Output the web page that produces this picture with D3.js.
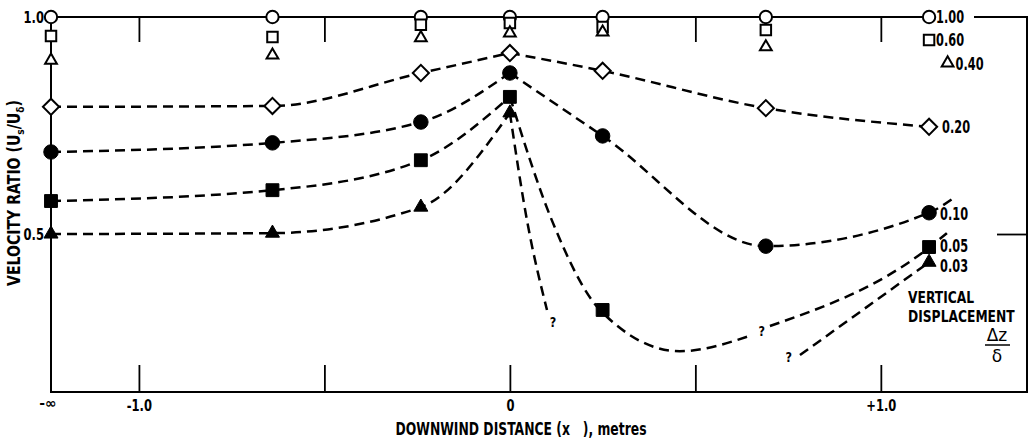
<!DOCTYPE html>
<html>
<head>
<meta charset="utf-8">
<script src="https://cdn.jsdelivr.net/npm/d3@7"></script>
<style>
  body { margin: 0; background: #fff; }
  svg text { font-family: "DejaVu Sans", sans-serif; font-weight: bold; fill: #000; }
</style>
</head>
<body>
<svg id="chart" width="1028" height="441"></svg>
<script>
// measuring stations, metres downwind ("-∞" = undisturbed upstream)
var stations = ["-∞", -0.64, -0.24, 0, 0.25, 0.69, 1.13];
var stations040 = ["-∞", -0.64, -0.24, 0, 0.25, 0.69, 1.18];

// velocity ratio Us/Uδ at each station, one array per vertical displacement Δz/δ
var dz100 = [1.0, 1.0, 1.0, 1.0, 1.0, 1.0, 1.0];
var dz060 = [0.956, 0.954, 0.982, 0.986, 0.977, 0.970, 0.947];
var dz040 = [0.900, 0.912, 0.952, 0.963, 0.965, 0.931, 0.894];
var dz020 = [0.793, 0.795, 0.871, 0.917, 0.876, 0.790, 0.747];
var dz010 = [0.689, 0.710, 0.758, 0.871, 0.726, 0.472, 0.549];
var dz005 = [0.576, 0.601, 0.670, 0.816, 0.325, null, 0.470];
var dz003 = [0.500, 0.502, 0.562, 0.779, null, null, 0.435];

// hand-faired dashed curves [x, ratio]
var fair020 = [
  [["-∞", 0.793], [-0.64, 0.795], [-0.24, 0.871], [0, 0.917]],
  [[0, 0.917], [0.25, 0.876], [0.69, 0.790], [1.13, 0.747]]
];
var fair010 = [
  [["-∞", 0.689], [-0.64, 0.710], [-0.24, 0.758], [0, 0.871]],
  [[0, 0.871], [0.25, 0.726], [0.69, 0.472], [1.13, 0.549], [1.20, 0.585]]
];
var fair005 = [
  [["-∞", 0.576], [-0.64, 0.601], [-0.24, 0.670], [0, 0.816]],
  [[0, 0.816], [0.113, 0.532], [0.243, 0.325], [0.458, 0.230], [0.652, 0.267]],
  [[0.701, 0.288], [1.132, 0.470], [1.178, 0.502]]
];
var fair003 = [
  [["-∞", 0.500], [-0.64, 0.502], [-0.24, 0.562], [0, 0.779]],
  [[0, 0.779], [0.046, 0.532], [0.100, 0.325]],
  [[0.782, 0.221], [1.13, 0.435]]
];

// uncertain ends of the curves
var queries = [[0.116, 0.297], [0.679, 0.276], [0.752, 0.217]];

var xTicks = [-1, -0.5, 0, 0.5, 1];
var xTickLabels = ["-1.0", "", "0", "", "+1.0"];
var yTicks = [0.5, 1.0];

var svg = d3.select("#chart");
var L = 51, R = 1027, T = 17, B = 392;

var x = d3.scaleLinear().domain([-1.237, 1.394]).range([L, R]);
var y = d3.scaleLinear().domain([0.136, 1.0]).range([B, T]);
var px = d => d === "-∞" ? L : x(d);

// the old lettering is narrow: squeeze text horizontally
function squeeze(sel, k) {
  sel.each(function () {
    var w = this.getComputedTextLength();
    d3.select(this).attr("textLength", w * k).attr("lengthAdjust", "spacingAndGlyphs");
  });
}

// frame (top edge is the Δz/δ = 1.00 line, broken for its label)
svg.append("path")
  .attr("d", "M" + L + "," + T + "V" + B + "H" + R + "V" + T + "H974")
  .attr("fill", "none").attr("stroke", "#000").attr("stroke-width", 2);

var gBottom = svg.append("g").attr("transform", "translate(0," + B + ")")
  .call(d3.axisBottom(x).tickValues(xTicks).tickSize(-27).tickPadding(8)
    .tickFormat((d, i) => xTickLabels[i]));
var gTop = svg.append("g").attr("transform", "translate(0," + T + ")")
  .call(d3.axisTop(x).tickValues([-1, -0.5, 0.5, 1]).tickSize(-25).tickFormat(""));
var gLeft = svg.append("g").attr("transform", "translate(" + L + ",0)")
  .call(d3.axisLeft(y).tickValues(yTicks).tickSize(0).tickPadding(7).tickFormat(d3.format(".1f")));
var gRight = svg.append("g").attr("transform", "translate(" + R + ",0)")
  .call(d3.axisRight(y).tickValues([0.5]).tickSize(-30).tickFormat(""));

[gBottom, gTop, gLeft, gRight].forEach(g => {
  g.attr("font-family", null).attr("font-size", null);
  g.select(".domain").remove();
  g.selectAll(".tick line").attr("stroke", "#000").attr("stroke-width", 1.8);
  g.selectAll("text").attr("font-size", 16).attr("fill", "#000");
  squeeze(g.selectAll("text"), 0.72);
});
gBottom.selectAll("text").attr("dy", "0.71em");

svg.append("text").attr("x", L - 3).attr("y", B + 16)
  .attr("text-anchor", "middle").attr("font-size", 14).text("-∞");

// axis titles
var yt = svg.append("text")
  .attr("transform", "translate(20,193) rotate(-90)")
  .attr("text-anchor", "middle").attr("font-size", 17)
  .attr("textLength", 186).attr("lengthAdjust", "spacingAndGlyphs");
yt.append("tspan").text("VELOCITY RATIO (U");
yt.append("tspan").attr("font-size", 11).attr("dy", 4).text("s");
yt.append("tspan").attr("dy", -4).text("/U");
yt.append("tspan").attr("font-size", 11).attr("dy", 4).text("δ");
yt.append("tspan").attr("dy", -4).text(")");

svg.append("text").attr("x", 521).attr("y", 435)
  .attr("text-anchor", "middle").attr("font-size", 17.5)
  .attr("textLength", 251).attr("lengthAdjust", "spacingAndGlyphs")
  .style("white-space", "pre")
  .text("DOWNWIND DISTANCE (x   ), metres");

// faired dashed curves
var line = d3.line()
  .x(d => px(d[0])).y(d => y(d[1]))
  .curve(d3.curveMonotoneX);

[fair020, fair010, fair005, fair003].forEach(pieces => {
  svg.append("g").selectAll("path").data(pieces).enter()
    .append("path")
    .attr("d", line)
    .attr("fill", "none").attr("stroke", "#000")
    .attr("stroke-width", 2.5).attr("stroke-dasharray", "10,6");
});

// the 1.00 profile is solid along the top
svg.append("path")
  .attr("d", line(stations.map((s, i) => [s, dz100[i]])))
  .attr("fill", "none").attr("stroke", "#000").attr("stroke-width", 2);

// markers
var diamond = d3.symbol().type(d3.symbolSquare).size(130)();
var series = [
  { label: "1.00", xs: stations, vals: dz100, sym: d3.symbolCircle, size: 120, open: true, dx: 7, dy: 0 },
  { label: "0.60", xs: stations, vals: dz060, sym: d3.symbolSquare, size: 110, open: true, dx: 7, dy: 0 },
  { label: "0.40", xs: stations040, vals: dz040, sym: d3.symbolTriangle, size: 60, open: true, dx: 8, dy: 1 },
  { label: "0.20", xs: stations, vals: dz020, sym: null, size: 130, open: true, dx: 13, dy: 0 },
  { label: "0.10", xs: stations, vals: dz010, sym: d3.symbolCircle, size: 165, open: false, dx: 11, dy: 1 },
  { label: "0.05", xs: stations, vals: dz005, sym: d3.symbolSquare, size: 165, open: false, dx: 11, dy: -1 },
  { label: "0.03", xs: stations, vals: dz003, sym: d3.symbolTriangle, size: 85, open: false, dx: 11, dy: 4 }
];

series.forEach(s => {
  var pts = s.vals.map((v, i) => [s.xs[i], v]).filter(p => p[1] !== null);
  var path = s.sym ? d3.symbol().type(s.sym).size(s.size)() : diamond;
  svg.append("g").selectAll("path").data(pts).enter()
    .append("path")
    .attr("d", path)
    .attr("transform", d => "translate(" + px(d[0]) + "," + y(d[1]) + ")" + (s.sym ? "" : " rotate(45)"))
    .attr("fill", s.open ? "#fff" : "#000")
    .attr("stroke", "#000").attr("stroke-width", s.open ? 2 : 1);

  var last = pts[pts.length - 1];
  svg.append("text")
    .attr("x", px(last[0]) + s.dx)
    .attr("y", y(last[1]) + s.dy)
    .attr("dy", "0.36em").attr("font-size", 17)
    .attr("textLength", 28).attr("lengthAdjust", "spacingAndGlyphs")
    .text(s.label);
});

// question marks where the curves become uncertain
var qm = svg.append("g").selectAll("text").data(queries).enter()
  .append("text")
  .attr("x", d => x(d[0])).attr("y", d => y(d[1]))
  .attr("dy", "0.36em").attr("text-anchor", "middle").attr("font-size", 14)
  .text("?");
squeeze(qm, 0.8);

// legend title, condensed with a scale so its box stays inside the frame
var legTitle = svg.append("g").attr("transform", "translate(908,303) scale(0.82,1)");
legTitle.append("text").attr("font-size", 15).text("VERTICAL");
legTitle.append("text").attr("y", 19).attr("font-size", 15).text("DISPLACEMENT");

svg.append("text").attr("x", 997).attr("y", 341).attr("text-anchor", "middle")
  .attr("font-size", 17).style("font-weight", "normal")
  .text("Δz");
svg.append("line").attr("x1", 985).attr("x2", 1010).attr("y1", 345).attr("y2", 345)
  .attr("stroke", "#000").attr("stroke-width", 1.5);
svg.append("text").attr("x", 997).attr("y", 362).attr("text-anchor", "middle")
  .attr("font-size", 17).style("font-weight", "normal")
  .text("δ");
</script>
</body>
</html>
